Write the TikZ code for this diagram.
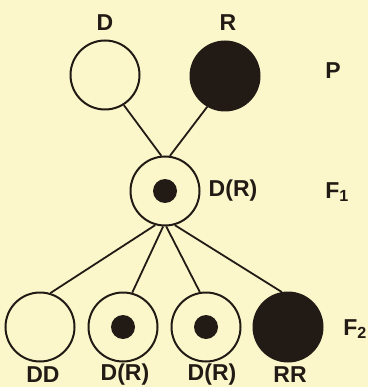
\documentclass[tikz,border=0pt]{standalone}
\usepackage{fontspec}
\setmainfont{Liberation Sans}
\definecolor{paper}{HTML}{FBF7CB}
\definecolor{ink}{HTML}{221B15}

\begin{document}
\begin{tikzpicture}[x=1pt,y=-1pt,
 font=\fontsize{23}{25}\selectfont\bfseries,
 allele/.style={circle,draw=ink,line width=2pt,minimum size=69pt,inner sep=0pt},
 recessive/.style={allele,fill=ink},
 nucleus/.style={circle,fill=ink,minimum size=24pt,inner sep=0pt},
 cross/.style={ink,line width=1.8pt},
 gene/.style={text=ink,inner sep=0pt}]

\fill[paper] (0,0) rectangle (368,387);
\useasboundingbox (0,0) rectangle (368,387);
% parents
\node[allele] (D) at (105,75) {};
\node[recessive] (R) at (225,76) {};
% first generation
\node[allele] (F1) at (165,191) {};
\node[nucleus] (F1dot) at (F1) {};
% second generation
\node[allele] (DD) at (40,327) {};
\node[allele] (H1) at (123,327) {};
\node[allele] (H2) at (206,327) {};
\node[recessive] (RR) at (288,327) {};
\foreach \het in {H1,H2}{
  \node[nucleus] (\het dot) at (\het) {};
}
\draw[cross] (D.-58) -- (F1.96);
\draw[cross] (R.-120) -- (F1.82);
\draw[cross] (F1.-106) -- (DD.73);
\draw[cross] (F1.-93) -- (H1.75);
\draw[cross] (F1.-88) -- (H2.100);
\draw[cross] (F1.-74) -- (RR.100);
% labels
\node[gene] (labD) at (105,23) {D};
\node[gene] (labR) at (228,23) {R};
\node[gene] (labP) at (333,71) {P};
\node[gene] (labF1) at (233,191) {D(R)};
\node[gene] (genF1) at (337,192) {F\textsubscript{1}};
\node[gene] (genF2) at (355,329) {F\textsubscript{2}};
\node[gene] (labDD) at (43,375) {DD};
\node[gene] (labH1) at (125,375) {D(R)};
\node[gene] (labH2) at (212,375) {D(R)};
\node[gene] (labRR) at (290,375) {RR};
\end{tikzpicture}
\end{document}
